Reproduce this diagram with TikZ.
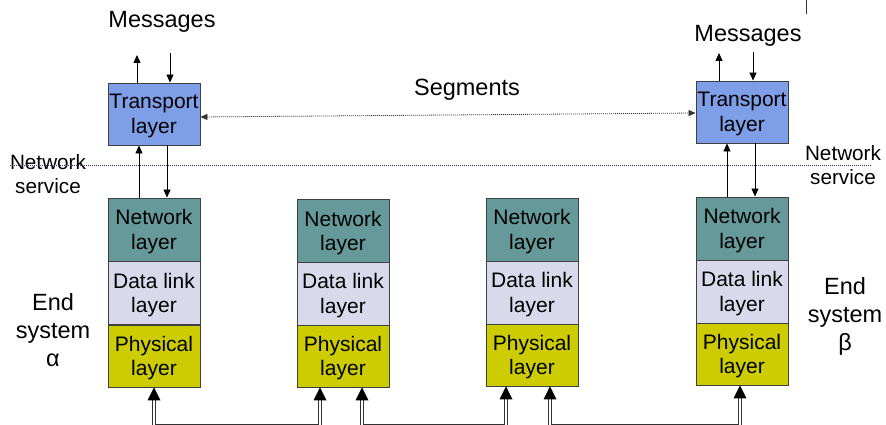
\documentclass[tikz,border=0pt]{standalone}
\usepackage{fontspec}
\setmainfont{Liberation Sans}
\usetikzlibrary{arrows.meta}
\definecolor{transportblue}{RGB}{127,158,232}
\definecolor{netteal}{RGB}{102,153,153}
\definecolor{linklav}{RGB}{217,217,236}
\definecolor{physyellow}{RGB}{204,204,0}
\definecolor{boxedge}{RGB}{64,64,64}
\definecolor{servicepurple}{RGB}{90,40,120}
\definecolor{wiregray}{RGB}{50,50,50}
\tikzset{
  layerbox/.style={draw=boxedge, line width=0.9pt, minimum width=92pt, inner sep=0pt,
    align=center, text depth=0pt, font=\fontsize{21}{24.5}\selectfont},
  transport/.style={layerbox, fill=transportblue, minimum height=62pt},
  netlayer/.style={layerbox, fill=netteal, minimum height=63pt},
  linklayer/.style={layerbox, fill=linklav, minimum height=63pt},
  physlayer/.style={layerbox, fill=physyellow, minimum height=62pt},
  biglabel/.style={align=center, font=\fontsize{23.5}{28}\selectfont, inner sep=0pt},
  servlabel/.style={align=center, font=\fontsize{20.7}{24}\selectfont, inner sep=0pt},
  arr/.style={line width=0.8pt, -{Triangle[length=8pt,width=7pt]}},
  segarrow/.style={draw=black!80, line width=0.8pt, dash pattern=on 1pt off 1pt,
    {Triangle[length=7pt,width=6pt]}-{Triangle[length=7pt,width=6pt]}},
  serviceline/.style={draw=servicepurple, line width=0.8pt, dash pattern=on 1pt off 1pt},
  wire/.style={draw=wiregray, line width=1.1pt, double=white, double distance=1.6pt},
  wirehead/.style={fill=black}
}
% filled head whose tip touches the bottom of a physical layer box
\newcommand{\wiretip}[1]{\fill[wirehead] (#1) -- ++(-6.5,13) -- ++(13,0) -- cycle;}
\begin{document}
\begin{tikzpicture}[x=1pt, y=-1pt]
\useasboundingbox (0,0) rectangle (886,425);

% end system alpha
\node[transport] (tr1) at (154,114) {Transport\\layer};
\node[netlayer]  (nw1) at (154,229.5) {Network\\layer};
\node[linklayer] (dl1) at (154,293) {Data link\\layer};
\node[physlayer] (ph1) at (154,356) {Physical\\layer};

% first router
\node[netlayer]  (nw2) at (343,231) {Network\\layer};
\node[linklayer] (dl2) at (343,293.5) {Data link\\layer};
\node[physlayer] (ph2) at (343,356) {Physical\\layer};

% second router
\node[netlayer]  (nw3) at (532,229.5) {Network\\layer};
\node[linklayer] (dl3) at (532,292.5) {Data link\\layer};
\node[physlayer] (ph3) at (532,355) {Physical\\layer};

% end system beta
\node[transport] (tr4) at (742,112) {Transport\\layer};
\node[netlayer]  (nw4) at (742,228.5) {Network\\layer};
\node[linklayer] (dl4) at (742,291.5) {Data link\\layer};
\node[physlayer] (ph4) at (742,354) {Physical\\layer};

% labels
\node[biglabel] (msg1) at (162,22) {Messages};
\node[biglabel] (msg4) at (748,36) {Messages};
\node[biglabel] (seg) at (467,90) {Segments};
\node[biglabel] (esa) at (53,330) {End\\system\\α};
\node[biglabel] (esb) at (845,316) {End\\system\\β};
\node[servlabel] (ns1) at (48,174) {Network\\service};
\node[servlabel] (ns4) at (843,165) {Network\\service};

% network service boundary
\coordinate (nsL) at (10,165);
\coordinate (nsR) at (871,165);
\draw[serviceline] (nsL) -- (nsR);

% message arrows above the transport layers
\coordinate (m1up) at (137,55);
\coordinate (m1dn) at (170,53);
\coordinate (m4up) at (719,53);
\coordinate (m4dn) at (753,52);
\draw[arr] (m1up |- tr1.north) -- (m1up);
\draw[arr] (m1dn) -- (m1dn |- tr1.north);
\draw[arr] (m4up |- tr4.north) -- (m4up);
\draw[arr] (m4dn) -- (m4dn |- tr4.north);

% transport <-> network
\draw[arr] ([xshift=-15pt]nw1.north) -- ([xshift=-15pt]tr1.south);
\draw[arr] ([xshift=13pt]tr1.south) -- ([xshift=13pt]nw1.north);
\draw[arr] ([xshift=-15pt]nw4.north) -- ([xshift=-15pt]tr4.south);
\draw[arr] ([xshift=13pt]tr4.south) -- ([xshift=13pt]nw4.north);

% segments between the transport layers
\draw[segarrow] ([yshift=-3pt]tr1.east) -- ([yshift=-1pt]tr4.west);

% physical links: double lines ending in filled heads
\coordinate (base) at (0,425.5);
\coordinate (w1) at (ph1.south);
\coordinate (w2a) at ([xshift=-23pt]ph2.south);
\coordinate (w2b) at ([xshift=19pt]ph2.south);
\coordinate (w3a) at ([xshift=-26pt]ph3.south);
\coordinate (w3b) at ([xshift=18pt]ph3.south);
\coordinate (w4) at ([xshift=-2pt]ph4.south);
\draw[wire] ([yshift=-12pt]w1) -- (w1 |- base) -- (w2a |- base) -- ([yshift=-12pt]w2a);
\draw[wire] ([yshift=-12pt]w2b) -- (w2b |- base) -- (w3a |- base) -- ([yshift=-12pt]w3a);
\draw[wire] ([yshift=-12pt]w3b) -- (w3b |- base) -- (w4 |- base) -- ([yshift=-12pt]w4);
\wiretip{w1}
\wiretip{w2a}
\wiretip{w2b}
\wiretip{w3a}
\wiretip{w3b}
\wiretip{w4}

% short mark at the top edge
\coordinate (markA) at (806,0);
\coordinate (markB) at (806,14);
\draw[line width=0.8pt, black!80] (markA) -- (markB);
\end{tikzpicture}
\end{document}
